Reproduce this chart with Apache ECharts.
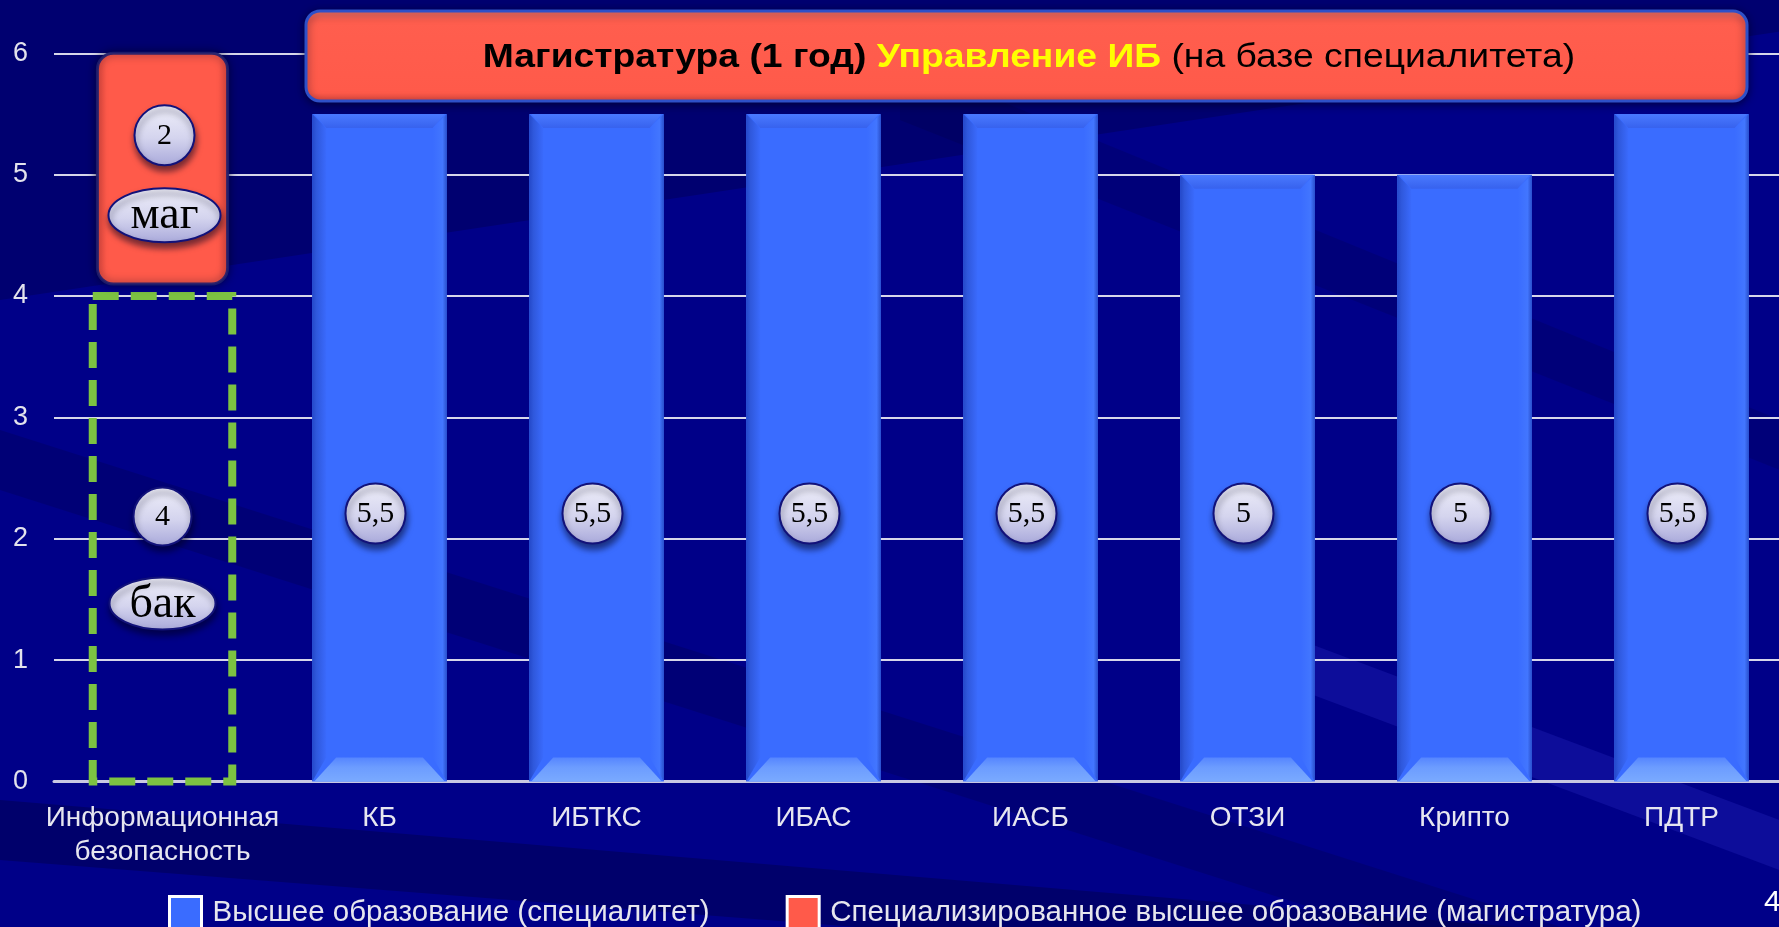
<!DOCTYPE html>
<html><head><meta charset="utf-8">
<script src="https://cdn.jsdelivr.net/npm/echarts/dist/echarts.min.js"></script>
<style>html,body{margin:0;padding:0;background:#000088;overflow:hidden}#c{width:1790px;height:927px}</style>
</head><body><div id="c"></div>
<script>
// ---- data ----
const categories = ['Информационная\nбезопасность', 'КБ', 'ИБТКС', 'ИБАС', 'ИАСБ', 'ОТЗИ', 'Крипто', 'ПДТР'];
const specialistYears = [4, 5.5, 5.5, 5.5, 5.5, 5, 5, 5.5];
const masterYears = [2, null, null, null, null, null, null, null];
const yTicks = [0, 1, 2, 3, 4, 5, 6];
const seriesNames = ['Высшее образование (специалитет)', 'Специализированное высшее образование (магистратура)'];
const levelWords = ['бак', 'маг'];
const bannerParts = ['Магистратура (1 год) ', 'Управление ИБ', ' (на базе специалитета)'];
const pageNumber = '4';

const fmt = v => String(v).replace('.', ',');
const chart = echarts.init(document.getElementById('c'), null, {renderer: 'canvas'});
const SANS = '"Liberation Sans", Arial, sans-serif';

const badgeFill = () => new echarts.graphic.LinearGradient(0, 0, 0, 1, [
  {offset: 0, color: '#F0F0FA'}, {offset: 0.55, color: '#D4D4EE'}, {offset: 1, color: '#A8A8DA'}]);
const badgeStyle = () => ({fill: badgeFill(), stroke: '#12127A', lineWidth: 2,
  shadowBlur: 6, shadowColor: 'rgba(0,0,30,0.55)', shadowOffsetY: 5, shadowOffsetX: 1});
function badge(kids, cx, cy, rx, ry, text, size) {
  kids.push({type: 'ellipse', shape: {cx, cy, rx, ry}, style: badgeStyle(), z2: 10});
  kids.push({type: 'text', z2: 11, style: {text, x: cx, y: cy + 1, align: 'center', verticalAlign: 'middle',
    textAlign: 'center', textVerticalAlign: 'middle', fill: '#000', font: size + 'px "Liberation Serif", "DejaVu Serif", serif'}});
}

function renderOverlay(params, api) {
  const i = api.value(0), spec = api.value(1), mag = api.value(2);
  const base = api.coord([i, 0]);
  const cx = base[0], yb = base[1];
  const band = api.size([1, 0])[0];
  const bw = band * 0.62;
  const x0 = cx - bw / 2, x1 = cx + bw / 2;
  const yt = api.coord([i, spec])[1];
  const kids = [];
  if (mag > 0) {
    const fw = band * 0.643;
    kids.push({type: 'rect', shape: {x: cx - fw / 2, y: yt, width: fw, height: yb - yt},
      style: {fill: 'none', stroke: '#7CC242', lineWidth: 8, lineDash: [26, 12]}});
    const ym = api.coord([i, spec + mag])[1];
    const rw = band * 0.6;
    kids.push({type: 'rect', shape: {x: cx - rw / 2, y: ym, width: rw, height: yt - 12 - ym, r: 16},
      style: {fill: new echarts.graphic.LinearGradient(1, 0, 0, 0, [{offset: 0, color: '#F04C3E'}, {offset: 0.08, color: '#FF5A4A'}, {offset: 0.92, color: '#FF5A4A'}, {offset: 1, color: '#F04C3E'}]),
        stroke: 'rgba(30,30,110,0.9)', lineWidth: 3, shadowBlur: 8, shadowColor: 'rgba(0,0,30,0.6)'}});
    badge(kids, cx, yb - 265, 29, 29, fmt(spec), 30);
    badge(kids, cx, yb - 178, 53, 26, levelWords[0], 46);
    badge(kids, cx + 2, ym + 82, 30, 30, fmt(mag), 30);
    badge(kids, cx + 2, ym + 162, 56, 27, levelWords[1], 46);
  } else {
    const b = 24, s = 14;
    kids.push({type: 'polygon', shape: {points: [[x0 + 2, yb], [x1 - 2, yb], [x1 - b, yb - b], [x0 + b, yb - b]]},
      style: {fill: new echarts.graphic.LinearGradient(0, 0, 0, 1, [{offset: 0, color: '#5585FF'}, {offset: 0.4, color: '#6C9CFF'}, {offset: 1, color: '#7AAAFF'}])}});
    kids.push({type: 'polygon', shape: {points: [[x0 + 2, yt], [x1 - 2, yt], [x1 - s, yt + s], [x0 + s, yt + s]]},
      style: {fill: new echarts.graphic.LinearGradient(0, 0, 0, 1, [{offset: 0, color: '#4A7AFF'}, {offset: 1, color: '#3762EE'}])}});
    kids.push({type: 'polygon', shape: {points: [[x0, yt], [x0 + s, yt + s], [x0 + s, yb - b], [x0, yb]]},
      style: {fill: new echarts.graphic.LinearGradient(0, 0, 1, 0, [{offset: 0, color: '#2448C8'}, {offset: 0.3, color: '#2F58DC'}, {offset: 1, color: '#3A6AFC'}])}});
    kids.push({type: 'polygon', shape: {points: [[x1, yt], [x1 - s, yt + s], [x1 - s, yb - b], [x1, yb]]},
      style: {fill: new echarts.graphic.LinearGradient(0, 0, 1, 0, [{offset: 0, color: '#3A6CFF'}, {offset: 0.7, color: '#4276FF'}, {offset: 1, color: '#2A50CC'}])}});
    badge(kids, cx - 4, yb - 268, 30, 30, fmt(spec), 30);
  }
  return {type: 'group', children: kids};
}

const overlayData = categories.map((c, i) => [i, specialistYears[i], masterYears[i] || 0]);

const streaks = [
  {pts: [[0, 0], [1790, 0], [1790, 30], [0, 300]], c: 'rgba(0,0,40,0.25)'},
  {pts: [[0, 430], [1790, 1000], [1790, 1060], [0, 490]], c: 'rgba(0,0,40,0.18)'},
  {pts: [[0, 800], [1790, 950], [1790, 1000], [0, 860]], c: 'rgba(0,0,40,0.3)'},
  {pts: [[1300, 640], [1790, 824], [1790, 874], [1300, 690]], c: 'rgba(60,60,220,0.22)'},
  {pts: [[900, 60], [1790, 424], [1790, 474], [900, 120]], c: 'rgba(0,0,40,0.15)'}
];

const option = {
  backgroundColor: '#000088',
  animation: false,
  textStyle: {fontFamily: SANS},
  grid: {left: 54, right: 0, top: 53.3, bottom: 145.5, containLabel: false},
  xAxis: {
    type: 'category', data: categories,
    axisLine: {show: true, lineStyle: {color: '#C8C8E2', width: 3}},
    axisTick: {show: false},
    axisLabel: {color: '#E6E6F0', fontSize: 28, lineHeight: 34, margin: 20, interval: 0, fontFamily: SANS}
  },
  yAxis: {
    type: 'value', min: yTicks[0], max: yTicks[yTicks.length - 1], interval: 1,
    axisLine: {show: false}, axisTick: {show: false},
    axisLabel: {color: '#E2E2EC', fontSize: 27, margin: 26, fontFamily: SANS,
      formatter: v => yTicks.includes(v) ? String(v) : ''},
    splitLine: {lineStyle: {color: '#D6D6EA', width: 2}}
  },
  legend: {
    data: seriesNames, left: 163, top: 890, icon: 'rect', itemWidth: 32, itemHeight: 32, itemGap: 76,
    itemStyle: {borderColor: '#FFFFFF', borderWidth: 3},
    textStyle: {color: '#E6E6EE', fontSize: 29.5, fontFamily: SANS, padding: [0, 0, 0, 6]}
  },
  series: [
    {
      name: seriesNames[0], type: 'bar', stack: 'edu', barWidth: '62%',
      itemStyle: {color: '#3A6CFF'},
      data: specialistYears.map((v, i) => masterYears[i] ? {value: v, itemStyle: {color: 'rgba(0,0,0,0)'}} : v)
    },
    {
      name: seriesNames[1], type: 'bar', stack: 'edu', barWidth: '60%',
      itemStyle: {color: '#FF5A4A'},
      data: masterYears.map(v => v == null ? null : {value: v, itemStyle: {color: 'rgba(0,0,0,0)'}})
    },
    {
      name: 'overlay', type: 'custom', renderItem: renderOverlay, data: overlayData,
      encode: {x: 0, y: 1}, clip: false, silent: true, z: 5
    }
  ],
  graphic: [
    ...streaks.map(s => ({type: 'polygon', z: -10, silent: true, shape: {points: s.pts}, style: {fill: s.c}})),
    {type: 'rect', z: 50, shape: {x: 306, y: 11, width: 1441, height: 90, r: 14},
      style: {fill: new echarts.graphic.LinearGradient(0, 0, 0, 1, [{offset: 0, color: '#FF7A6A'}, {offset: 0.12, color: '#FF5E4E'}, {offset: 0.9, color: '#FF5A4A'}, {offset: 1, color: '#E84A3C'}]),
        stroke: '#2E50C8', lineWidth: 3, shadowBlur: 8, shadowColor: 'rgba(0,0,30,0.6)', shadowOffsetY: 2}},
    {type: 'text', z: 51, x: 1029, y: 58, scaleX: 1.13, scaleY: 1, style: {
      x: 0, y: 0, align: 'center', verticalAlign: 'middle', textAlign: 'center', textVerticalAlign: 'middle',
      text: '{b|' + bannerParts[0] + '}{y|' + bannerParts[1] + '}{n|' + bannerParts[2] + '}',
      rich: {
        b: {fontSize: 33, fontWeight: 'bold', fill: '#000', color: '#000', fontFamily: SANS},
        y: {fontSize: 33, fontWeight: 'bold', fill: '#FFFF00', color: '#FFFF00', fontFamily: SANS},
        n: {fontSize: 33, fill: '#000', color: '#000', fontFamily: SANS}
      }}},
    {type: 'text', z: 51, style: {x: 1764, y: 888, text: pageNumber, fill: '#FFFFFF', font: '30px ' + SANS}}
  ]
};
chart.setOption(option);
</script></body></html>
